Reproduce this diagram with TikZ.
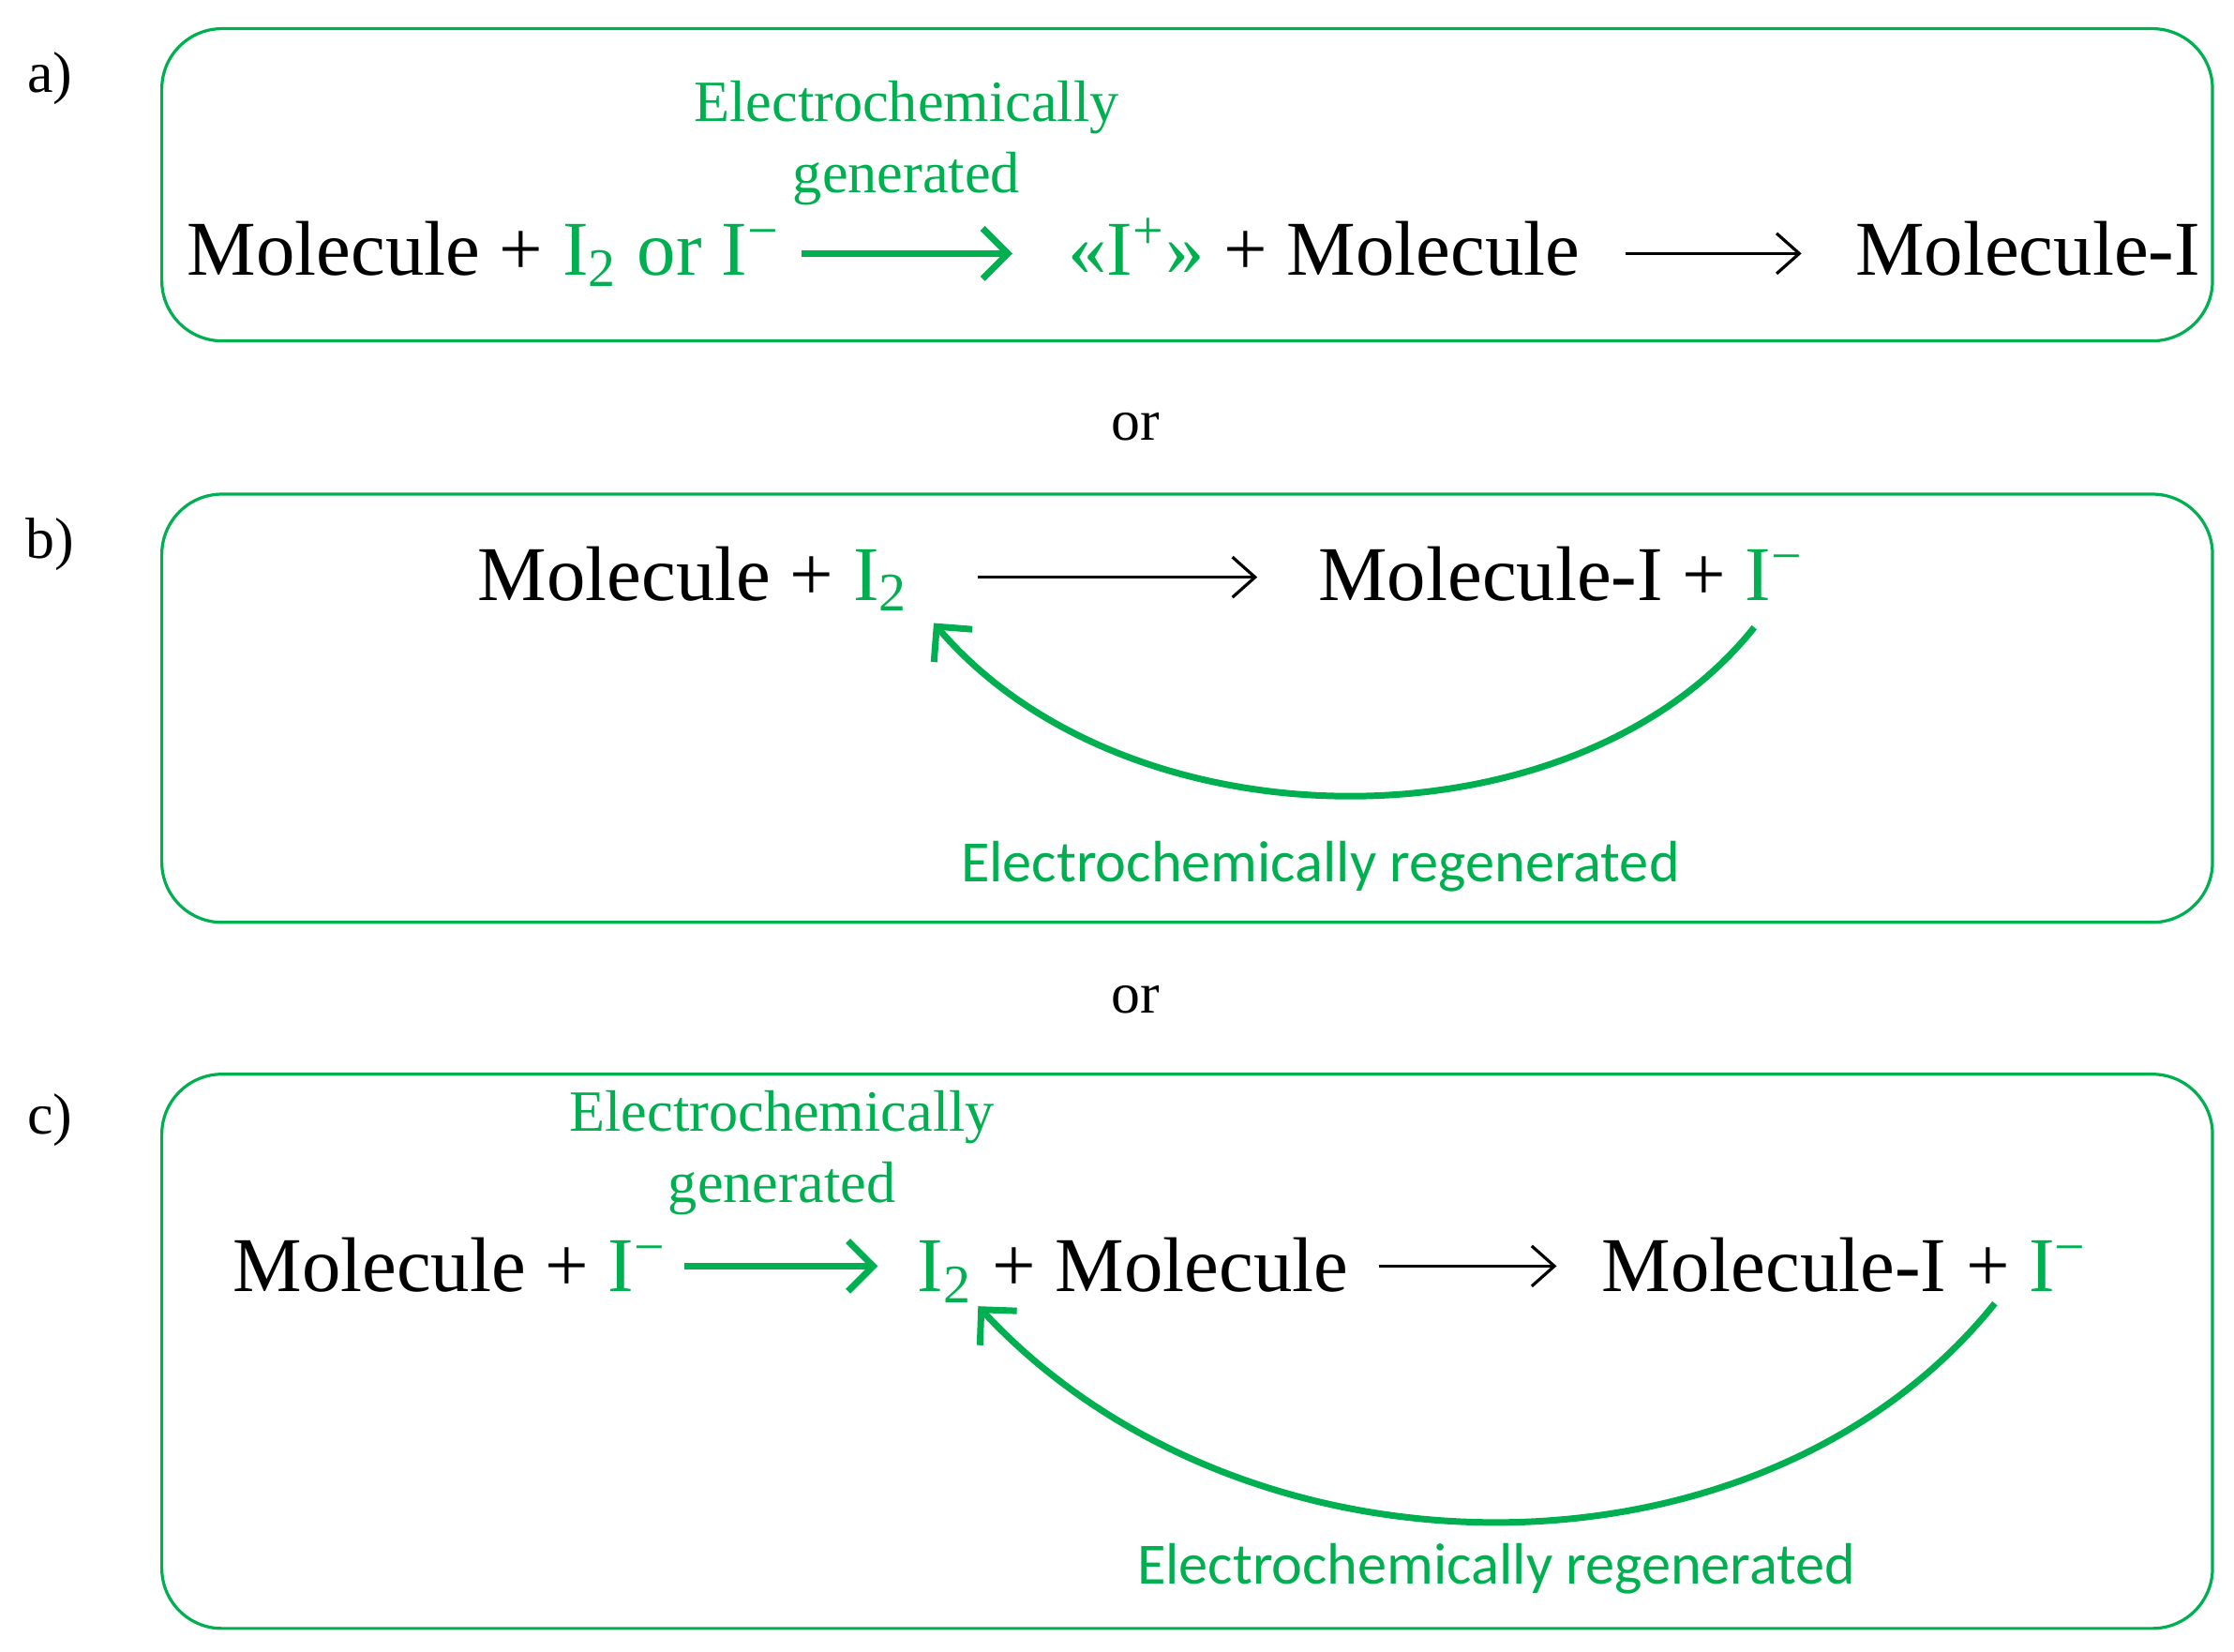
\documentclass[tikz,border=0pt]{standalone}
\usepackage{fontspec}
\setmainfont{Liberation Serif}
\newfontfamily\carlitofont{Carlito}
\usetikzlibrary{arrows.meta}
\definecolor{g}{HTML}{00B050}
\begin{document}
\begin{tikzpicture}[x=0.01cm,y=-0.01cm,
  box/.style={draw=g,line width=0.6pt,rounded corners=0.42cm},
  big/.style={inner sep=0,font=\fontsize{15.4}{18}\selectfont,anchor=base west},
  lab/.style={inner sep=0,font=\fontsize{11.6}{14.2}\selectfont,text=g,align=center},
  sans/.style={inner sep=0,font=\carlitofont\fontsize{11.6}{13}\selectfont,text=g},
  plain/.style={inner sep=0,font=\fontsize{11.5}{13}\selectfont},
  garr/.style={draw=g,line width=1.3pt,-{Straight Barb[length=5pt,width=10pt]}},
  karr/.style={draw=black,line width=0.6pt,-{Straight Barb[length=4.5pt,width=8pt]}}]
\useasboundingbox (0,0) rectangle (1560,1153);
% labels
\node[plain] (la) at (35,55) {a)};
\node[plain] (lb) at (35,380) {b)};
\node[plain] (lc) at (35,782) {c)};
\node[plain] (or1) at (793,298) {or};
\node[plain] (or2) at (793,698) {or};
% a
\draw[box] (113,20) rectangle (1545,238);
\node[big] (a1) at (130,192) {Molecule + \textcolor{g}{I\textsubscript{2} or I\textsuperscript{−}}};
\node[big] (a2) at (745,192) {\textcolor{g}{«I\textsuperscript{+}»} + Molecule};
\node[big] (a3) at (1295,192) {Molecule-I};
\node[lab] (ag) at (633,100) {Electrochemically\\generated};
\coordinate (a1e) at (560,177); \coordinate (a2s) at (707,177);
\draw[garr] (a1e) -- (a2s);
\coordinate (a2e) at (1135,177); \coordinate (a3s) at (1258,177);
\draw[karr] (a2e) -- (a3s);
% b
\draw[box] (113,345) rectangle (1545,644);
\node[big] (b1) at (333,419) {Molecule + \textcolor{g}{I\textsubscript{2}}};
\node[big] (b2) at (920,419) {Molecule-I + \textcolor{g}{I\textsuperscript{−}}};
\coordinate (b1e) at (683,403); \coordinate (b2s) at (878,403);
\draw[karr] (b1e) -- (b2s);
\coordinate (bs) at (1225,438); \coordinate (be) at (652,435);
\draw[garr] (bs) .. controls (1100,595) and (789,595) .. (be);
\node[sans] (bl) at (922,605) {Electrochemically regenerated};
% c
\draw[box] (113,750) rectangle (1545,1137);
\node[lab] (cg) at (546,805) {Electrochemically\\generated};
\node[big] (c1) at (162,902) {Molecule + \textcolor{g}{I\textsuperscript{−}}};
\node[big] (c2) at (640,902) {\textcolor{g}{I\textsubscript{2}} + Molecule};
\node[big] (c3) at (1118,902) {Molecule-I + \textcolor{g}{I\textsuperscript{−}}};
\coordinate (c1e) at (478,884); \coordinate (c2s) at (613,884);
\draw[garr] (c1e) -- (c2s);
\coordinate (c2e) at (963,884); \coordinate (c3s) at (1087,884);
\draw[karr] (c2e) -- (c3s);
\coordinate (cs) at (1393,910); \coordinate (ce) at (683,912);
\draw[garr] (cs) .. controls (1230,1113) and (870,1113) .. (ce);
\node[sans] (cl) at (1045,1095) {Electrochemically regenerated};
\end{tikzpicture}
\end{document}
